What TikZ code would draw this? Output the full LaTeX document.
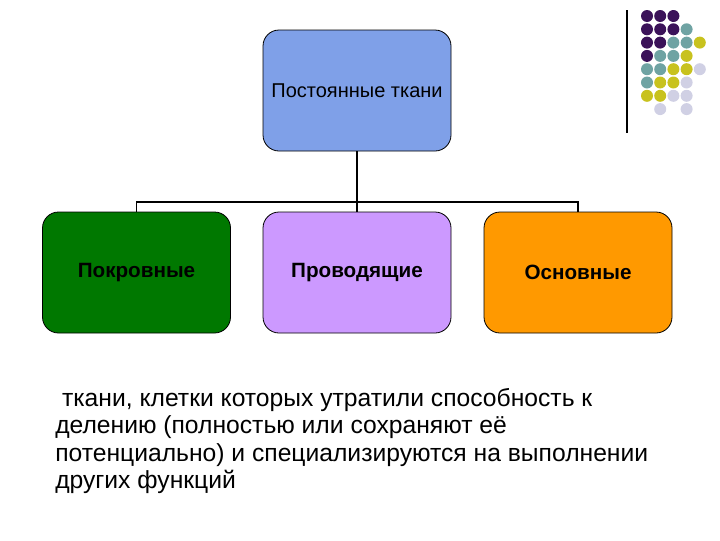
\documentclass[tikz,border=0pt]{standalone}
\usepackage{fontspec}
\setmainfont{Liberation Sans}
\definecolor{dk}{HTML}{3B1259}
\definecolor{tl}{HTML}{6FA3A3}
\definecolor{yl}{HTML}{C8C21E}
\definecolor{lv}{HTML}{D0D0E4}
\definecolor{topc}{HTML}{7FA0E8}
\definecolor{grn}{HTML}{007800}
\definecolor{lil}{HTML}{CC99FF}
\definecolor{org}{HTML}{FF9900}
\begin{document}
\begin{tikzpicture}[x=0.75pt,y=-0.75pt,
  box/.style={draw=black,rounded corners=12pt,minimum width=141pt,minimum height=90.75pt,align=center,line width=0.6pt},
  lab/.style={font=\bfseries\fontsize{15.5}{18}\selectfont},
  conn/.style={line width=1.3pt},
  dot/.style={circle,inner sep=0pt,minimum size=9pt}]
\useasboundingbox (0,0) rectangle (720,540);
\node[box,fill=topc,font=\fontsize{15}{18}\selectfont] (top) at (357,90.5) {Постоянные ткани};
\node[box,fill=grn,lab] (a) at (136.5,272.5) {Покровные};
\node[box,fill=lil,lab] (b) at (357,272.5) {Проводящие};
\node[box,fill=org,lab] (c) at (578,272.5) {Основные};
\coordinate (j) at (357,202);
\draw[conn] (top.south) -- (j);
\draw[conn] (a.north) -- (a.north |- j) -- (c.north |- j) -- (c.north);
\draw[conn] (j) -- (b.north);
\draw[line width=1pt] (627,10) -- (627,133);
\foreach \r/\row in {0/{d,d,d,n,n},1/{d,d,d,t,n},2/{d,d,t,t,y},3/{d,t,t,y,n},4/{t,t,y,y,l},5/{t,y,y,l,n},6/{y,y,l,l,n},7/{n,l,n,l,n}}{
  \foreach \c [count=\i from 0] in \row {
    \if\c n\else
    \if\c d\def\dc{dk}\fi
    \if\c t\def\dc{tl}\fi
    \if\c y\def\dc{yl}\fi
    \if\c l\def\dc{lv}\fi
    \node[dot,fill=\dc] (p\r\i) at ({647+13.2*\i},{16+13.3*\r}) {};
    \fi
  }
}
\node[anchor=north west,align=left,font=\fontsize{18.5}{20.6}\selectfont,inner sep=0pt] (txt) at (55,388)
{\ ткани, клетки которых утратили способность к\\делению (полностью или сохраняют её\\потенциально) и специализируются на выполнении\\других функций};
\end{tikzpicture}
\end{document}
